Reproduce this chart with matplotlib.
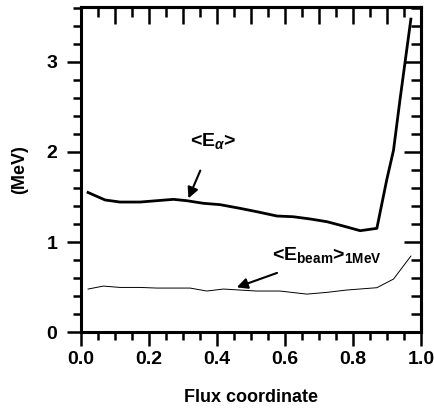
import numpy as np
import matplotlib
matplotlib.use("Agg")
import matplotlib.pyplot as plt
from matplotlib.ticker import MultipleLocator

plt.rcParams['font.family'] = ['Liberation Sans', 'DejaVu Sans']
plt.rcParams['font.weight'] = 'bold'
plt.rcParams['mathtext.fontset'] = 'custom'
plt.rcParams['mathtext.rm'] = 'Liberation Sans:bold'
plt.rcParams['mathtext.bf'] = 'Liberation Sans:bold'
plt.rcParams['mathtext.it'] = 'Liberation Sans:bold:italic'

# <E_alpha> (thick curve)
flux_alpha = [0.021, 0.071, 0.115, 0.174, 0.272, 0.311, 0.36, 0.409, 0.468, 0.517,
              0.576, 0.624, 0.674, 0.723, 0.771, 0.821, 0.870, 0.899, 0.919, 0.938, 0.970]
e_alpha = [1.55, 1.467, 1.444, 1.444, 1.474, 1.459, 1.43, 1.415, 1.374, 1.337,
           1.289, 1.281, 1.256, 1.226, 1.178, 1.126, 1.152, 1.69, 2.02, 2.58, 3.475]

# <E_beam>_1MeV (thin curve)
flux_beam = [0.021, 0.066, 0.115, 0.174, 0.223, 0.321, 0.37, 0.419, 0.468, 0.517,
             0.585, 0.664, 0.723, 0.781, 0.870, 0.919, 0.970]
e_beam = [0.478, 0.511, 0.496, 0.496, 0.489, 0.489, 0.456, 0.478, 0.467, 0.456,
          0.456, 0.422, 0.441, 0.467, 0.493, 0.589, 0.844]

fig = plt.figure(figsize=(4.35, 4.09), dpi=100)
ax = fig.add_axes([0.186, 0.188, 0.782, 0.795])

ax.plot(flux_alpha, e_alpha, color='black', lw=2.0)
ax.plot(flux_beam, e_beam, color='black', lw=0.7)

ax.set_xlim(0, 1.0)
ax.set_ylim(0, 3.61)

ax.xaxis.set_major_locator(MultipleLocator(0.2))
ax.xaxis.set_minor_locator(MultipleLocator(0.05))
ax.yaxis.set_major_locator(MultipleLocator(1))
ax.yaxis.set_minor_locator(MultipleLocator(0.2))
ax.xaxis.set_major_formatter(plt.FormatStrFormatter('%.1f'))

for s in ax.spines.values():
    s.set_linewidth(2.2)

ax.tick_params(which='both', direction='out', bottom=True, left=True, top=False, right=False,
               width=1.8, labelsize=14)
ax.tick_params(which='major', length=10)
ax.tick_params(which='minor', length=6)
ax.tick_params(axis='y', which='major', pad=7)
# inward ticks on top and right
sec_x = ax.secondary_xaxis('top')
sec_x.xaxis.set_major_locator(MultipleLocator(0.1))
sec_x.xaxis.set_minor_locator(MultipleLocator(0.05))
sec_x.tick_params(which='both', direction='in', width=1.8, labeltop=False)
sec_x.tick_params(which='major', length=12)
sec_x.tick_params(which='minor', length=7)
sec_x.spines['top'].set_linewidth(2.2)
sec_y = ax.secondary_yaxis('right')
sec_y.yaxis.set_major_locator(MultipleLocator(1))
sec_y.yaxis.set_minor_locator(MultipleLocator(0.2))
sec_y.tick_params(which='both', direction='in', width=1.8, labelright=False)
sec_y.tick_params(which='major', length=12)
sec_y.tick_params(which='minor', length=7)
sec_y.spines['right'].set_linewidth(2.2)

ax.set_xlabel('Flux coordinate', fontsize=13, fontweight='bold', labelpad=15)
ax.set_ylabel('(MeV)', fontsize=13, fontweight='bold', labelpad=13)

ax.annotate(r'<E$_{\alpha}$>', xy=(0.316, 1.485), xytext=(0.388, 2.12),
            ha='center', va='center', fontsize=14, fontweight='bold',
            arrowprops=dict(arrowstyle='-|>', color='black', lw=1.5,
                            shrinkA=13, shrinkB=0, mutation_scale=16))
ax.annotate(r'<E$_{\mathrm{beam}}$>$_{\mathrm{1MeV}}$', xy=(0.458, 0.497), xytext=(0.724, 0.856),
            ha='center', va='center', fontsize=14, fontweight='bold',
            arrowprops=dict(arrowstyle='-|>', color='black', lw=1.5,
                            shrinkA=11, shrinkB=0, mutation_scale=16))

fig.savefig('out.png', dpi=100)
